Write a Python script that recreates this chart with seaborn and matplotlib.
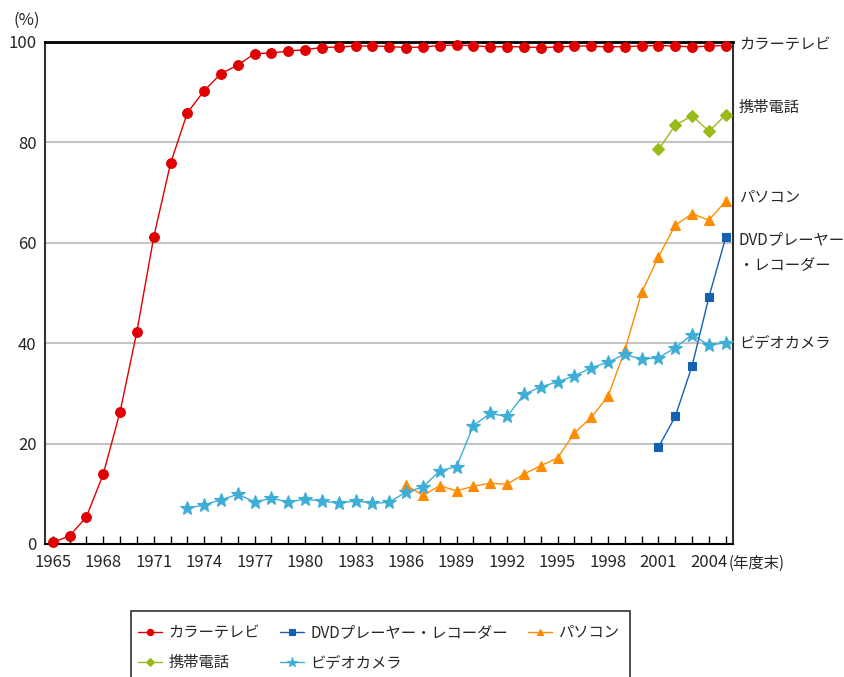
import numpy as np
import pandas as pd
import matplotlib
matplotlib.use("Agg")
import matplotlib.pyplot as plt
from matplotlib.patches import Rectangle
import seaborn as sns

# Household diffusion rates of durable goods (%), by fiscal year end
years_tv = list(range(1965, 2006))
color_tv = [0.3, 1.6, 5.4, 13.9, 26.3, 42.3, 61.1, 75.8, 85.9, 90.3,
            93.7, 95.4, 97.7, 97.8, 98.2, 98.5, 98.9, 99.0, 99.2, 99.2,
            99.1, 98.9, 99.0, 99.3, 99.4, 99.3, 99.0, 99.1, 99.0, 98.9,
            99.0, 99.2, 99.2, 99.0, 99.1, 99.2, 99.3, 99.2, 99.0, 99.2, 99.3]

years_mobile = [2001, 2002, 2003, 2004, 2005]
mobile = [78.6, 83.4, 85.3, 82.2, 85.5]

years_pc = list(range(1986, 2006))
pc = [11.7, 9.7, 11.6, 10.6, 11.5, 12.1, 11.9, 13.9, 15.6, 17.1,
      22.1, 25.2, 29.4, 38.6, 50.1, 57.2, 63.5, 65.8, 64.5, 68.3]

years_dvd = [2001, 2002, 2003, 2004, 2005]
dvd = [19.3, 25.4, 35.5, 49.2, 61.1]

years_cam = list(range(1973, 2006))
camera = [7.1, 7.8, 8.8, 9.9, 8.4, 9.1, 8.4, 8.9, 8.6, 8.1,
          8.6, 8.1, 8.3, 10.4, 11.3, 14.6, 15.4, 23.6, 26.0, 25.4,
          29.8, 31.3, 32.3, 33.5, 35.1, 36.2, 37.8, 36.8, 37.1, 39.1,
          41.7, 39.6, 40.1]

names = ["カラーテレビ", "携帯電話", "パソコン", "DVDプレーヤー・レコーダー", "ビデオカメラ"]
side_labels = ["カラーテレビ", "携帯電話", "パソコン", "DVDプレーヤー\n・レコーダー", "ビデオカメラ"]
x_ticks = list(range(1965, 2005, 3))
y_ticks = [0, 20, 40, 60, 80, 100]

sns.set_style("white")
plt.rcParams["font.family"] = ["Noto Sans CJK JP", "DejaVu Sans"]

fig = plt.figure(figsize=(8.44, 6.77), dpi=100)
W, H = 844, 677
ax = fig.add_axes([45 / W, 1 - 544 / H, (733 - 45) / W, (544 - 42) / H])

series = [
    (names[0], years_tv, color_tv, "#E00000", "o", 7.0),
    (names[1], years_mobile, mobile, "#99BB1A", "D", 6.5),
    (names[2], years_pc, pc, "#FF8C00", "^", 7.5),
    (names[4], years_cam, camera, "#3FAED6", "*", 10.5),
    (names[3], years_dvd, dvd, "#1560B0", "s", 6.0),
]

handles = {}
for name, xs, ys, col, mk, ms in series:
    df = pd.DataFrame({"year": xs, "value": ys})
    sns.lineplot(data=df, x="year", y="value", ax=ax, color=col, marker=mk,
                 markersize=ms, markeredgecolor=col, markeredgewidth=0.8,
                 linewidth=1.0, label=name, clip_on=False, zorder=3)
    handles[name] = ax.get_lines()[-1]
ax.get_legend().remove()

ax.set_xlim(1964.54, 2005.43)
ax.set_ylim(0, 100)
ax.set_xticks(x_ticks)
ax.set_xticks(range(1965, 2006), minor=True)
ax.set_yticks(y_ticks)
ax.set_xlabel("")
ax.set_ylabel("")

ax.grid(axis="y", color="#c4c4c4", linewidth=1.5, zorder=0)
ax.grid(axis="x", visible=False)
ax.set_axisbelow(True)

ax.tick_params(axis="x", which="both", direction="in", length=6, width=1,
               color="black", pad=7, labelsize=12, bottom=True)
ax.tick_params(axis="y", which="both", length=0, pad=6, labelsize=12)

for side, sp in ax.spines.items():
    sp.set_visible(True)
    sp.set_color("#303030")
    sp.set_linewidth(1.5)
ax.spines["top"].set_color("black")
ax.spines["top"].set_linewidth(2)
ax.spines["bottom"].set_color("black")

# unit labels
fig.text(27 / W, 1 - 20 / H, "(%)", ha="center", va="center", fontsize=12)
fig.text(729 / W, 1 - 563 / H, "(年度末)", ha="left", va="center", fontsize=11)

# series names along the right edge
side_y = [45, 107, 197, 252, 343]
for lab, yy in zip(side_labels, side_y):
    fig.text(739 / W, 1 - yy / H, lab, ha="left", va="center", fontsize=11,
             linespacing=1.55)

# legend entries, with a box that runs past the lower edge of the figure
order = [names[0], names[1], names[3], names[4], names[2]]
leg = fig.legend([handles[n] for n in order], order, loc="upper left",
                 bbox_to_anchor=(138 / W, 1 - 624 / H), ncol=3, fontsize=11,
                 frameon=False, markerscale=0.65, handlelength=1.6,
                 handletextpad=0.4, columnspacing=1.3,
                 borderpad=0, labelspacing=0.85, borderaxespad=0)
fig.add_artist(Rectangle((131 / W, 1 - 700 / H), 499 / W, 89 / H,
                         transform=fig.transFigure, fill=False,
                         edgecolor="#333333", linewidth=1.2))

fig.savefig("out.png", dpi=100)
